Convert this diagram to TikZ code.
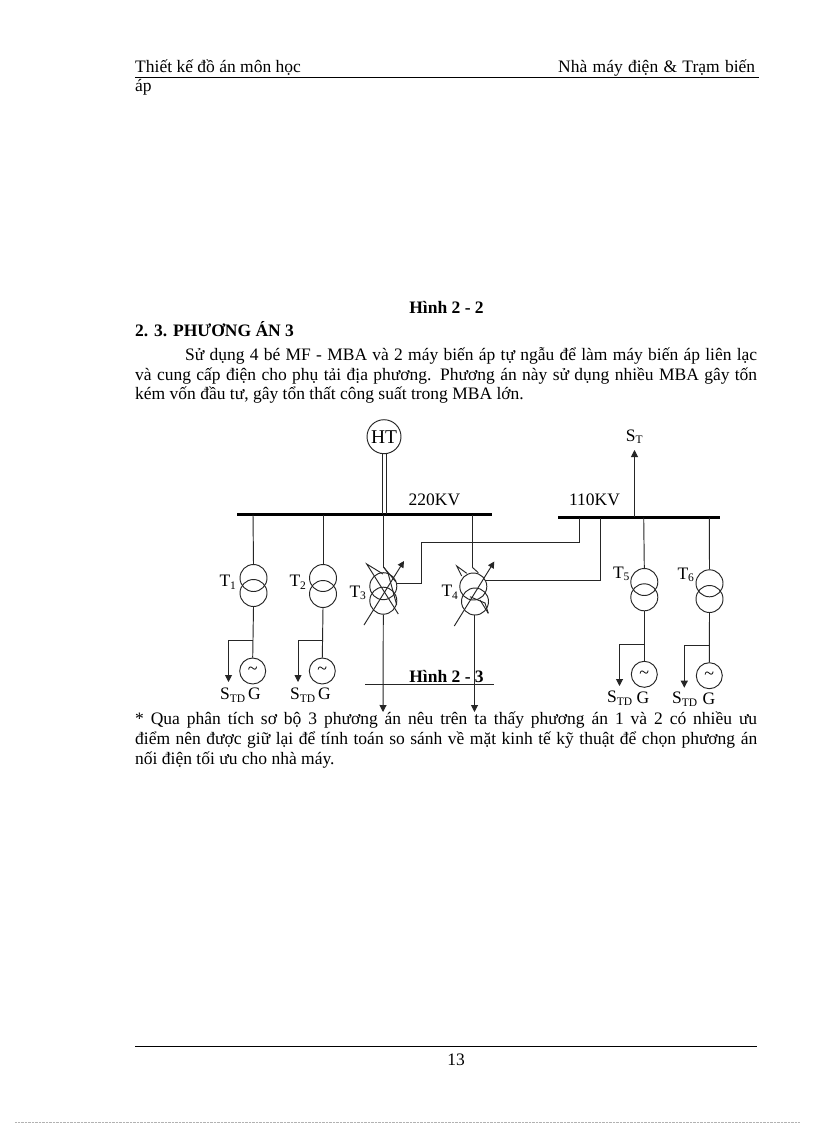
\documentclass[tikz,border=0pt]{standalone}
\usepackage{fontspec}
\setmainfont{Liberation Serif}
\usetikzlibrary{arrows.meta}
\newcommand{\subsz}{\fontsize{11.5}{11.5}\selectfont}
\tikzset{
  txt/.style={inner sep=0pt,anchor=base west,font=\fontsize{17.5}{18}\selectfont},
  lab/.style={inner sep=0pt,font=\fontsize{17.5}{18}\selectfont},
  wire/.style={line width=0.95pt,draw=black!85},
  bus/.style={line width=3pt,draw=black},
  coil/.style={circle,draw=black!85,line width=0.95pt,minimum size=27pt,inner sep=0pt},
  gen/.style={circle,draw=black!85,line width=0.95pt,minimum size=26pt,inner sep=0pt,font=\fontsize{18}{18}\selectfont},
  arr/.style={wire,-{Triangle[length=7pt,width=7pt]}},
  arrs/.style={wire,-{Triangle[length=6.5pt,width=6.5pt]}}
}
\newcommand{\stdlab}{S\textsubscript{\subsz TD}}
\begin{document}
\begin{tikzpicture}[x=1pt,y=-1pt]
\useasboundingbox (0,0) rectangle (816,1123);
\fill[white] (0,0) rectangle (816,1123);
% header
\node[txt] (h1) at (135,73) {Thiết kế đồ án môn học};
\node[txt] (h2) at (558,73) {\makebox[197pt][s]{Nhà máy điện \& Trạm biến}};
\node[txt] (h3) at (135,92) {áp};
\coordinate (hl) at (135,77.5); \coordinate (hr) at (759,77.5);
\draw[line width=1pt] (hl) -- (hr);
% text
\node[inner sep=0pt,anchor=base,font=\bfseries\fontsize{17.5}{18}\selectfont] (c2) at (446.5,313) {Hình 2 - 2};
\node[txt,font=\bfseries\fontsize{17.5}{18}\selectfont] (s3) at (135,336) {2. 3. PHƯƠNG ÁN 3};
\node[txt] (p1) at (185,360) {\makebox[572pt][s]{Sử dụng 4 bé MF - MBA và 2 máy biến áp tự ngẫu để làm máy biến áp liên lạc}};
\node[txt] (p2) at (135,380) {\makebox[622pt][s]{và cung cấp điện cho phụ tải địa phương. Phương án này sử dụng nhiều MBA gây tốn}};
\node[txt] (p3) at (135,399.5) {kém vốn đầu tư, gây tổn thất công suất trong MBA lớn.};
\node[txt] (q1) at (135,724.5) {\makebox[622pt][s]{* Qua phân tích sơ bộ 3 phương án nêu trên ta thấy phương án 1 và 2 có nhiều ưu}};
\node[txt] (q2) at (135,744.5) {\makebox[622pt][s]{điểm nên được giữ lại để tính toán so sánh về mặt kinh tế kỹ thuật để chọn phương án}};
\node[txt] (q3) at (135,764.5) {nối điện tối ưu cho nhà máy.};
% footer
\coordinate (fl) at (135,1046); \coordinate (fr) at (757,1046);
\draw[line width=1pt] (fl) -- (fr);
\node[lab] (pg) at (456,1060) {13};
\coordinate (dl) at (15,1122); \coordinate (dr) at (800,1122);
\draw[black!30,line width=0.4pt,densely dotted] (dl) -- (dr);
% buses
\coordinate (b1l) at (237,514.5); \coordinate (b1r) at (492,514.5);
\coordinate (b2l) at (558,517.5); \coordinate (b2r) at (720,517.5);
\draw[bus] (b1l) -- (b1r);
\draw[bus] (b2l) -- (b2r);
\node[lab] (v220) at (434.5,500) {220KV};
\node[lab] (v110) at (594.5,500) {110KV};
% HT
\node[coil,minimum size=34pt,font=\fontsize{19.5}{19.5}\selectfont] (ht) at (384,436.7) {HT};
\coordinate (bh1) at (382,514); \coordinate (bh2) at (386.5,514);
\coordinate (ht1) at (382,453.6); \coordinate (ht2) at (386.5,453.6);
\draw[wire] (ht1) -- (bh1); \draw[wire] (ht2) -- (bh2);
% ST
\coordinate (st0) at (634.5,517); \coordinate (st1) at (634.5,450);
\draw[arr] (st0) -- (st1);
\node[lab] (st) at (634.5,436.5) {S\textsubscript{\subsz T}};
% T1
\node[coil] (t1a) at (253.5,578) {}; \node[coil] (t1b) at (253.5,593) {};
\node[gen] (g1) at (252.7,671) {\char"007E};
\coordinate (t1u) at (253,514.5); \coordinate (t1j) at (253,640); \coordinate (t1s) at (228.5,640); \coordinate (t1e) at (228.5,682);
\draw[wire] (t1u) -- (t1a.north); \draw[wire] (t1b.south) -- (g1.north);
\draw[arr] (t1j) -- (t1s) -- (t1e);
% T2
\node[coil] (t2a) at (323,578) {}; \node[coil] (t2b) at (323,594) {};
\node[gen] (g2) at (322.3,671) {\char"007E};
\coordinate (t2u) at (323,514.5); \coordinate (t2j) at (322,640); \coordinate (t2s) at (298,640); \coordinate (t2e) at (298,682);
\draw[wire] (t2u) -- (t2a.north); \draw[wire] (t2b.south) -- (g2.north);
\draw[arr] (t2j) -- (t2s) -- (t2e);
% T3
\node[coil] (t3a) at (383.3,586.2) {}; \node[coil] (t3b) at (383.3,600.7) {};
\coordinate (t3u) at (383.5,514.5); \coordinate (t3v) at (383.5,567); \coordinate (t3e) at (383,712);
\draw[wire] (t3u) -- (t3v);
\draw[arr] (t3b.south) -- (t3e);
\coordinate (t3d1) at (364,625); \coordinate (t3d2) at (404,561);
\draw[arrs] (t3d1) -- (t3d2);
\coordinate (t3x1) at (366.7,564); \coordinate (t3x2) at (398.3,614);
\coordinate (t3y2) at (383,574);
\draw[wire] (t3y2) -- (t3x1) -- (t3x2);
\coordinate (t3z2) at (395.7,581.7); \coordinate (t3w1) at (388,573); \coordinate (t3w2) at (396.7,605);
\draw[wire] (t3v) -- (t3z2);
\draw[wire] (t3v) -- (t3w1) -- (t3w2);
\coordinate (t3r1) at (396,583.5); \coordinate (t3r2) at (421.5,583.5); \coordinate (t3r3) at (421.5,542.5); \coordinate (t3r4) at (579.5,542.5); \coordinate (t3r5) at (579.5,517.5);
\draw[wire] (t3r1) -- (t3r2) -- (t3r3) -- (t3r4) -- (t3r5);
% T4
\node[coil] (t4a) at (473.3,586.5) {}; \node[coil] (t4b) at (475,601.5) {};
\coordinate (t4u) at (472.3,514.5); \coordinate (t4v) at (472.3,567.3); \coordinate (t4e) at (474.5,712);
\draw[wire] (t4u) -- (t4v);
\coordinate (t4t) at (478.3,572.7);
\draw[wire] (t4v) -- (t4t);
\draw[arr] (t4b.south -| t4e) -- (t4e);
\coordinate (t4d1) at (454.3,626); \coordinate (t4d2) at (494.3,561.5);
\draw[arrs] (t4d1) -- (t4d2);
\coordinate (t4x0) at (456.7,566); \coordinate (t4x1) at (466.7,573.3); \coordinate (t4x2) at (461.7,576);
\draw[wire] (t4x1) -- (t4x0) -- (t4x2);
\coordinate (t4y1) at (470,596.7); \coordinate (t4y2) at (485,603); \coordinate (t4y3) at (488.3,613.3); \coordinate (t4y4) at (480,600);
\draw[wire] (t4y1) -- (t4y2) -- (t4y3);
\draw[wire] (t4y4) -- (t4y3);
\coordinate (t4r1) at (485,580.3); \coordinate (t4r2) at (600.5,580.3); \coordinate (t4r3) at (600.5,517.5);
\draw[wire] (t4r1) -- (t4r2) -- (t4r3);
% T5
\node[coil] (t5a) at (644.3,582) {}; \node[coil] (t5b) at (644.3,597.3) {};
\node[gen] (g5) at (644.3,674.3) {\char"007E};
\coordinate (t5u) at (643.7,517.5); \coordinate (t5j) at (644.8,644.3); \coordinate (t5s) at (619.5,644.3); \coordinate (t5e) at (619.5,686);
\draw[wire] (t5u) -- (t5a.north); \draw[wire] (t5b.south) -- (g5.north);
\draw[arr] (t5j) -- (t5s) -- (t5e);
% T6
\node[coil] (t6a) at (709.5,583.3) {}; \node[coil] (t6b) at (709.5,599) {};
\node[gen] (g6) at (709.3,675.7) {\char"007E};
\coordinate (t6u) at (709.3,517.5); \coordinate (t6j) at (709.3,645.7); \coordinate (t6s) at (684.3,645.7); \coordinate (t6e) at (684.3,687.7);
\draw[wire] (t6u) -- (t6a.north); \draw[wire] (t6b.south) -- (g6.north);
\draw[arr] (t6j) -- (t6s) -- (t6e);
% labels
\node[lab] (lt1) at (228,582.5) {T\textsubscript{\subsz 1}};
\node[lab] (lt2) at (298,582.5) {T\textsubscript{\subsz 2}};
\node[lab] (lt3) at (358,593) {T\textsubscript{\subsz 3}};
\node[lab] (lt4) at (450,592.5) {T\textsubscript{\subsz 4}};
\node[lab] (lt5) at (621.5,574) {T\textsubscript{\subsz 5}};
\node[lab] (lt6) at (686,575) {T\textsubscript{\subsz 6}};
\node[lab] (s1) at (233,695) {\stdlab}; \node[lab] (gl1) at (254.5,694) {G};
\node[lab] (s2) at (303,695) {\stdlab}; \node[lab] (gl2) at (324.5,694) {G};
\node[lab] (s5) at (620,698) {\stdlab}; \node[lab] (gl5) at (643,698) {G};
\node[lab] (s6) at (685,699) {\stdlab}; \node[lab] (gl6) at (709,699) {G};
% Hinh 2-3
\coordinate (ul) at (365,684.5); \coordinate (ur) at (494,684.5);
\draw[wire] (ul) -- (ur);
\node[lab,font=\bfseries\fontsize{17.5}{18}\selectfont] (c3) at (446.5,676) {Hình 2 - 3};
\end{tikzpicture}
\end{document}
